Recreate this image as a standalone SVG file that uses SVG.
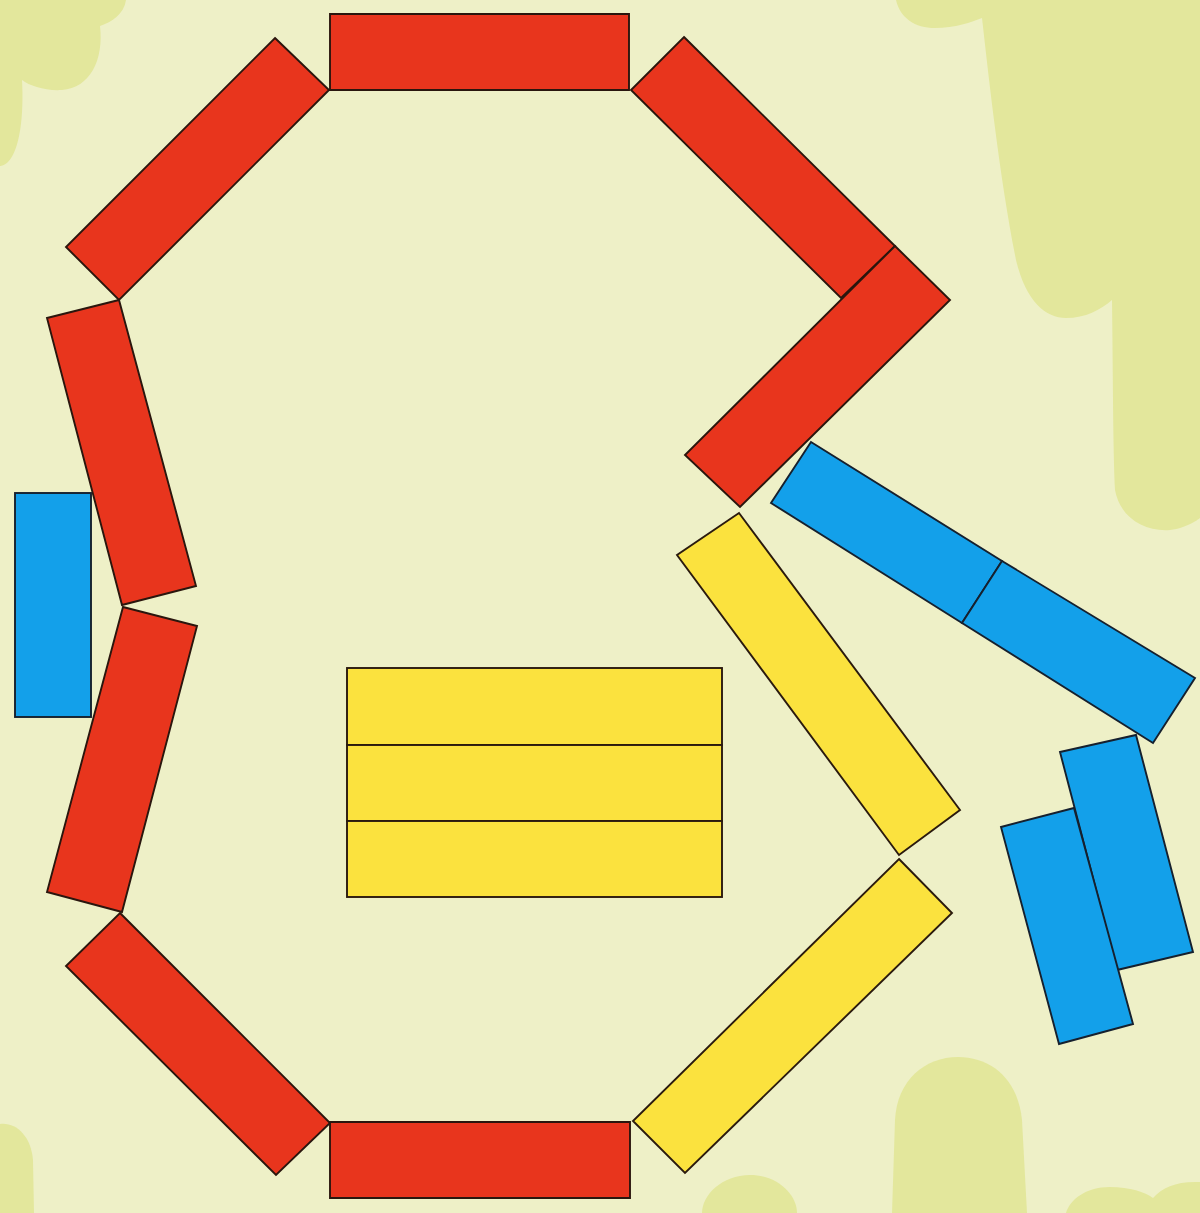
<svg xmlns="http://www.w3.org/2000/svg" width="1200" height="1213" viewBox="0 0 1200 1213">
<style>
.bg{fill:#eef0c7}
.blob{fill:#e3e79c}
.r{fill:#e8351d;stroke:#2a160e;stroke-width:1.9;stroke-linejoin:miter}
.y{fill:#fbe23e;stroke:#2a1a0e;stroke-width:1.9;stroke-linejoin:miter}
.b{fill:#13a0ea;stroke:#16202e;stroke-width:1.9;stroke-linejoin:miter}
</style>
<rect class="bg" x="0" y="0" width="1200" height="1213"/>
<g id="background">
<path class="blob" d="M 896,0 C 900,18 915,28 935,28 C 955,28 972,22 982,18 C 989,80 1000,180 1016,260 C 1026,302 1046,318 1066,318 C 1086,318 1100,310 1112,300 C 1113,380 1113,450 1115,490 C 1120,518 1145,532 1170,530 C 1188,528 1200,518 1200,518 L 1200,0 Z"/>
<path class="blob" d="M 0,0 L 126,0 C 124,14 112,22 100,26 C 104,60 90,88 62,90 C 45,91 30,86 22,80 C 24,115 20,150 8,162 C 4,166 0,166 0,166 Z"/>
<path class="blob" d="M 0,1213 L 0,1124 C 16,1122 31,1136 33,1160 L 34,1213 Z"/>
<path class="blob" d="M 892,1213 L 895,1120 C 897,1080 925,1057 958,1057 C 992,1057 1018,1080 1022,1120 L 1027,1213 Z"/>
<path class="blob" d="M 702,1213 C 702,1195 722,1175 750,1175 C 778,1175 797,1195 797,1213 Z"/>
<path class="blob" d="M 1066,1213 C 1070,1200 1085,1187 1110,1187 C 1130,1187 1145,1192 1153,1198 C 1162,1188 1175,1182 1195,1182 L 1200,1182 L 1200,1213 Z"/>
</g>
<g id="red-top"><polygon class="r" points="330,14 629,14 629,90 330,90"/></g>
<g id="red-upper-left"><polygon class="r" points="275,38 329,90 119,300 66,247"/></g>
<g id="red-upper-right"><polygon class="r" points="684,37 895,246 841,298 631,90"/></g>
<g id="red-right"><polygon class="r" points="895,246 950,300 740,507 685,455"/></g>
<g id="red-left-upper"><polygon class="r" points="47,318 119,300 196,586 122,605"/></g>
<g id="red-left-lower"><polygon class="r" points="123,607 197,626 122,912 47,892"/></g>
<g id="red-lower-left"><polygon class="r" points="120,913 330,1123 276,1175 66,966"/></g>
<g id="red-bottom"><polygon class="r" points="330,1122 630,1122 630,1198 330,1198"/></g>
<g id="yellow-center">
<rect class="y" x="347" y="668" width="375" height="77"/>
<rect class="y" x="347" y="745" width="375" height="76"/>
<rect class="y" x="347" y="821" width="375" height="76"/>
</g>
<g id="yellow-upper"><polygon class="y" points="739,513 960,810 899,855 677,555"/></g>
<g id="yellow-lower"><polygon class="y" points="899,859 952,913 685,1173 633,1121"/></g>
<g id="blue-left"><rect class="b" x="15" y="493" width="76" height="224"/></g>
<g id="blue-long-a"><polygon class="b" points="811,442 1002,561 962,623 771,503"/></g>
<g id="blue-long-b"><polygon class="b" points="1002,561 1195,678 1153,743 962,623"/></g>
<g id="blue-small-right"><polygon class="b" points="1060,752 1136,735 1193,952 1117,970"/></g>
<g id="blue-small-left"><polygon class="b" points="1001,827 1074,808 1133,1024 1059,1044"/></g>
</svg>
